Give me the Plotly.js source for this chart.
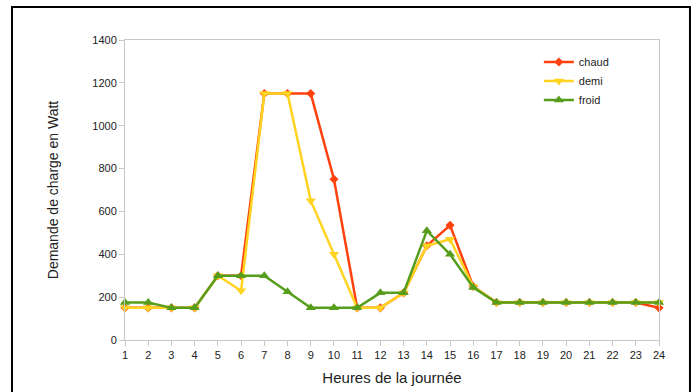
<!DOCTYPE html>
<html>
<head>
<meta charset="utf-8">
<script src="https://cdn.plot.ly/plotly-3.0.1.min.js"></script>
<style>
  html, body { margin: 0; padding: 0; background: #fff; }
  #chart { width: 698px; height: 392px; }
</style>
</head>
<body>
<div id="chart"></div>
<script>
const hours = [1,2,3,4,5,6,7,8,9,10,11,12,13,14,15,16,17,18,19,20,21,22,23,24];
const chaud = [150,150,150,150,300,300,1150,1150,1150,750,150,150,220,440,535,250,175,175,175,175,175,175,175,150];
const demi  = [150,150,150,150,300,230,1150,1150,650,400,150,150,220,440,470,250,175,175,175,175,175,175,175,175];
const froid = [175,175,150,150,300,300,300,225,150,150,150,220,220,510,400,245,175,175,175,175,175,175,175,175];
const yTicks = [0,200,400,600,800,1000,1200,1400];

const traces = [
  {name:'chaud', x:hours, y:chaud, mode:'lines+markers', cliponaxis:false,
   line:{color:'#ff420e', width:2.5}, marker:{symbol:'diamond', size:7, color:'#ff420e'}},
  {name:'demi', x:hours, y:demi, mode:'lines+markers', cliponaxis:false,
   line:{color:'#ffd320', width:2.5}, marker:{symbol:'triangle-down', size:9, color:'#ffd320'}},
  {name:'froid', x:hours, y:froid, mode:'lines+markers', cliponaxis:false,
   line:{color:'#579d1c', width:2.5}, marker:{symbol:'triangle-up', size:9, color:'#579d1c'}}
];

const layout = {
  width: 698, height: 392,
  margin: {l:125, r:39, t:40, b:52, pad:0},
  paper_bgcolor:'#fff', plot_bgcolor:'#fff',
  font: {family:'Liberation Sans, Arial, sans-serif', color:'#222', size:11},
  showlegend: true,
  legend: {x:0.775, y:0.975, xanchor:'left', yanchor:'top', bgcolor:'rgba(0,0,0,0)',
           font:{size:11, color:'#222'}, tracegroupgap:0, itemwidth:30},
  xaxis: {
    range:[1,24], tickmode:'array', tickvals:hours, ticktext:hours.map(String),
    showgrid:false, zeroline:false, showline:true, linecolor:'#c8c8c8', linewidth:1,
    mirror:true, ticks:'outside', ticklen:5, tickcolor:'#c8c8c8',
    tickfont:{size:11, color:'#222'},
    title:{text:'Heures de la journée', font:{size:15, color:'#222'}, standoff:12}
  },
  yaxis: {
    range:[0,1400], tickmode:'array', tickvals:yTicks,
    showgrid:false, zeroline:false, showline:true, linecolor:'#c8c8c8', linewidth:1,
    mirror:true, ticks:'outside', ticklen:5, tickcolor:'#c8c8c8',
    tickfont:{size:11, color:'#222'},
    title:{text:'Demande de charge en Watt', font:{size:14, color:'#222'}, standoff:30}
  },
  shapes: [{type:'rect', xref:'paper', yref:'paper',
            x0:-0.2116, x1:1.058, y0:-0.3, y1:1.11,
            line:{color:'#000', width:2}, fillcolor:'rgba(0,0,0,0)'}]
};

Plotly.newPlot('chart', traces, layout, {displayModeBar:false, staticPlot:true});
</script>
</body>
</html>
